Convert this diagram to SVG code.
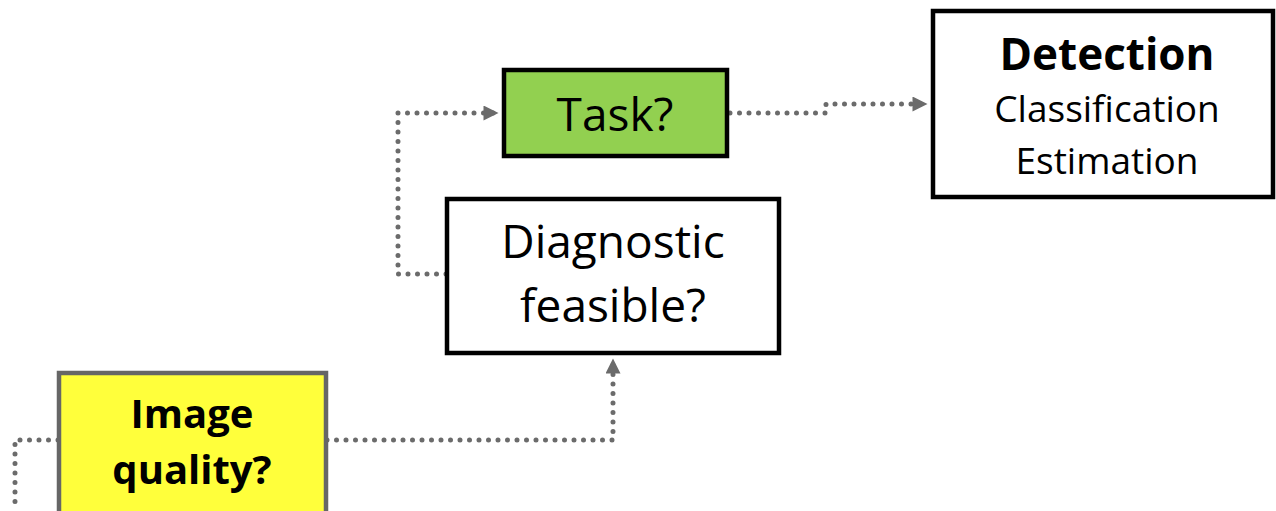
<svg xmlns="http://www.w3.org/2000/svg" width="1276" height="511" viewBox="0 0 1276 511">
  <style>
    .box { stroke-width: 4.5; }
    .lbl { font-family: "Open Sans", Lato, "Liberation Sans", sans-serif; fill: #000; text-anchor: middle; }
    .b { font-weight: bold; }
    .link { fill: none; stroke: #6b6b6b; stroke-width: 5; stroke-linecap: round; stroke-dasharray: 0 9.5; }
  </style>
  <defs>
    <marker id="arrow" viewBox="0 0 10 10" refX="9" refY="5" markerWidth="3.2" markerHeight="3" orient="auto" markerUnits="strokeWidth">
      <path d="M0,0 L10,5 L0,10 Z" fill="#6b6b6b"/>
    </marker>
  </defs>
  <rect width="1276" height="511" fill="#fff"/>

  <g id="connectors">
    <path class="link" d="M58,440 H15 V511"/>
    <path class="link" d="M327,440 H613 V360" marker-end="url(#arrow)"/>
    <path class="link" d="M446,274 H398 V113 H497" marker-end="url(#arrow)"/>
    <path class="link" d="M730,113 H826 V104 H926" marker-end="url(#arrow)"/>
  </g>

  <g id="image-quality">
    <rect class="box" x="59" y="373" width="267" height="145" fill="#ffff3b" stroke="#666"/>
    <text class="lbl b" x="192" y="428" font-size="40">Image</text>
    <text class="lbl b" x="192" y="484" font-size="40">quality?</text>
  </g>

  <g id="diagnostic">
    <rect class="box" x="447" y="199" width="332" height="154" fill="#fff" stroke="#000"/>
    <text class="lbl" x="613" y="258" font-size="46">Diagnostic</text>
    <text class="lbl" x="613" y="322" font-size="46">feasible?</text>
  </g>

  <g id="task">
    <rect class="box" x="504" y="70" width="223" height="86" fill="#92d050" stroke="#000"/>
    <text class="lbl" x="615" y="131" font-size="46">Task?</text>
  </g>

  <g id="detection">
    <rect class="box" x="933" y="11" width="340" height="186" fill="#fff" stroke="#000"/>
    <text class="lbl b" x="1107" y="70" font-size="44">Detection</text>
    <text class="lbl" x="1107" y="122" font-size="37">Classification</text>
    <text class="lbl" x="1107" y="174" font-size="37">Estimation</text>
  </g>
</svg>
